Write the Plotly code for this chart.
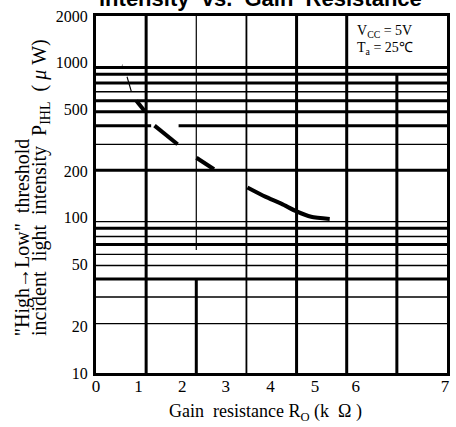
import plotly.graph_objects as go
import math

# ---- data ----
x_tick_vals = [0, 0.85, 1.72, 2.59, 3.48, 4.37, 5.18, 6.96]
x_tick_text = ["0", "1", "2", "3", "4", "5", "6", "7"]
y_tick_vals = [10, 20, 50, 100, 200, 500, 1000, 2000]
y_tick_text = ["10", "20", "50", "100", "200", "500", "1000", "2000"]

# horizontal grid levels (as drawn in the scanned chart)
grid_h_thick = [930, 842, 740, 569, 483, 203, 85.6, 67.3, 40.4]
grid_h_thin = [650, 298, 94.5, 75.8, 58.1, 49.3, 30.9, 20.8]
# split thick line at 400 level with a gap
grid_h_split = 393
grid_h_split_gaps = [(0, 1.10), (1.647, 7)]
# vertical grid
grid_v_thick_full = [1, 4, 5]
grid_v_medium_full = [3]
grid_v_partial_thin = [(2, 2000, 62)]
grid_v_partial_thick = [(2, 40.4, 10), (6, 842, 10)]

# curve segments
seg_thin_x = [0.52, 0.53, None, 0.619, 0.706]
seg_thin_y = [967, 960, None, 812, 650]
seg2_x = [0.805, 0.969]
seg2_y = [569, 488]
seg3_x = [1.167, 1.627]
seg3_y = [393, 298]
seg4_x = [2.003, 2.353]
seg4_y = [244, 205.6]
seg5_x = [3.02, 3.375, 3.704, 4.0, 4.291, 4.661]
seg5_y = [157, 137, 123, 110, 101.6, 98.4]

SERIF = "Liberation Serif"
fig = go.Figure()


def add_lines(xs, ys, width, color="black"):
    fig.add_trace(go.Scatter(x=xs, y=ys, mode="lines",
                             line=dict(color=color, width=width),
                             hoverinfo="skip", showlegend=False))


def hlines(levels, width):
    xs, ys = [], []
    for v in levels:
        xs += [0, 7, None]
        ys += [v, v, None]
    add_lines(xs, ys, width)


hlines(grid_h_thick, 3)
hlines(grid_h_thin, 1.3)
xs, ys = [], []
for a, b in grid_h_split_gaps:
    xs += [a, b, None]
    ys += [grid_h_split, grid_h_split, None]
add_lines(xs, ys, 3)

xs, ys = [], []
for v in grid_v_thick_full:
    xs += [v, v, None]
    ys += [10, 2000, None]
for v, y0, y1 in grid_v_partial_thick:
    xs += [v, v, None]
    ys += [y0, y1, None]
add_lines(xs, ys, 3)
xs, ys = [], []
for v in grid_v_medium_full:
    xs += [v, v, None]
    ys += [10, 2000, None]
add_lines(xs, ys, 1.8)
xs, ys = [], []
for v, y0, y1 in grid_v_partial_thin:
    xs += [v, v, None]
    ys += [y0, y1, None]
add_lines(xs, ys, 1.2)

# curve
add_lines(seg_thin_x, seg_thin_y, 1.1)
cx = seg2_x + [None] + seg3_x + [None] + seg4_x + [None] + seg5_x
cy = seg2_y + [None] + seg3_y + [None] + seg4_y + [None] + seg5_y
fig.add_trace(go.Scatter(x=cx, y=cy, mode="lines",
                         line=dict(color="black", width=4, shape="spline", smoothing=0.6),
                         hoverinfo="skip", showlegend=False))

W, H = 456, 427
L, R, T, B = 96, 6, 16, 54
pw, ph = W - L - R, H - T - B


def px(xp):
    return (xp - L) / pw


def py(yp):
    return (H - B - yp) / ph


annotations = [
    dict(text="<b>intensity  vs.  Gain  Resistance</b>", x=px(97), y=py(-1), xref="paper", yref="paper",
         xanchor="left", yanchor="middle", showarrow=False,
         font=dict(family="Liberation Sans", size=22, color="black")),
    dict(text="V<sub>CC</sub> = 5V", x=px(357), y=py(32), xref="paper", yref="paper",
         xanchor="left", yanchor="middle", showarrow=False,
         font=dict(family=SERIF, size=14, color="black")),
    dict(text="T<sub>a</sub> = 25℃", x=px(357), y=py(48), xref="paper", yref="paper",
         xanchor="left", yanchor="middle", showarrow=False,
         font=dict(family=SERIF, size=14, color="black")),
    dict(text="\"High→Low\"  threshold", x=px(22), y=py(338), xref="paper", yref="paper",
         xanchor="center", yanchor="bottom", textangle=-90, showarrow=False,
         font=dict(family=SERIF, size=20, color="black")),
    dict(text="incident  light  intensity  P<sub>IHL</sub>  ( <i>μ</i> W)", x=px(40), y=py(338),
         xref="paper", yref="paper",
         xanchor="center", yanchor="bottom", textangle=-90, showarrow=False,
         font=dict(family=SERIF, size=20, color="black")),
    dict(text="Gain  resistance R<sub>O</sub> (k  Ω )", x=px(168), y=py(412), xref="paper", yref="paper",
         xanchor="left", yanchor="middle", showarrow=False,
         font=dict(family=SERIF, size=18, color="black")),
]
for a in annotations:
    fig.add_annotation(**a)

fig.update_layout(
    width=W, height=H,
    margin=dict(l=L, r=R, t=T, b=B, pad=0),
    paper_bgcolor="white", plot_bgcolor="white",
    showlegend=False,
    xaxis=dict(range=[0, 7], showgrid=False, zeroline=False, showline=True, linewidth=3,
               linecolor="black", mirror=True, tickvals=x_tick_vals, ticktext=x_tick_text,
               ticks="", ticklabelstandoff=-4,
               tickfont=dict(family=SERIF, size=17, color="black")),
    yaxis=dict(type="log", range=[1, math.log10(2000)], showgrid=False, zeroline=False,
               showline=True, linewidth=3, linecolor="black", mirror=True,
               tickvals=y_tick_vals, ticktext=y_tick_text, ticks="", ticklabelstandoff=2,
               tickfont=dict(family=SERIF, size=16, color="black")),
)

fig.write_html("out.html", config={"displayModeBar": False})
